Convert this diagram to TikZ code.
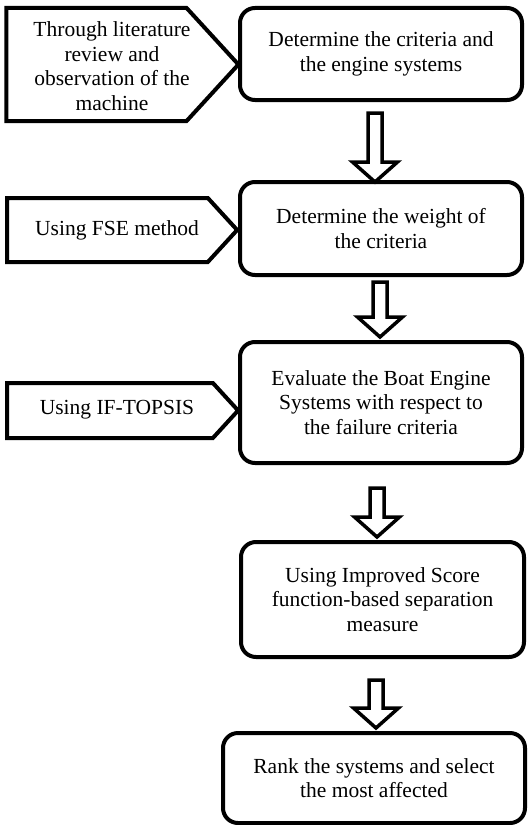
\documentclass[tikz,border=0pt]{standalone}
\usepackage{fontspec}
\setmainfont{Liberation Serif}
\usetikzlibrary{shapes.symbols,calc}
\tikzset{
  txt/.style={font=\fontsize{21.5bp}{24.5bp}\selectfont, align=center, inner sep=0pt},
  stepbox/.style={txt, draw, line width=4bp, rounded corners=15bp},
  pent/.style={draw, line width=4bp, shape=signal, signal to=east, signal from=nowhere, signal pointer angle=95, inner sep=0pt},
  barrow/.style={draw, line width=3.5bp, fill=white, line join=miter},
}
\newcommand{\blockarr}[2]{%
  \draw[barrow] ($(#1)+(-7,0)$) -- ($(#2)+(-7,-20)$) -- ($(#2)+(-22.5,-20)$) -- (#2)
    -- ($(#2)+(22.5,-20)$) -- ($(#2)+(7,-20)$) -- ($(#1)+(7,0)$) -- cycle;}
\begin{document}
\begin{tikzpicture}[x=1bp,y=-1bp]
  \path[fill=white, use as bounding box] (0,0) rectangle (531,825);

  % main boxes
  \node[stepbox, minimum width=282bp, minimum height=92bp] (b1) at (381,54)
    {Determine the criteria and\\the engine systems};
  \node[stepbox, minimum width=282bp, minimum height=93bp] (b2) at (381,228.5)
    {Determine the weight of\\the criteria};
  \node[stepbox, minimum width=282bp, minimum height=121bp] (b3) at (381,402.5)
    {Evaluate the Boat Engine\\Systems with respect to\\the failure criteria};
  \node[stepbox, minimum width=283bp, minimum height=115bp] (b4) at (382.5,599.5)
    {Using Improved Score\\function-based separation\\measure};
  \node[stepbox, minimum width=302bp, minimum height=90bp] (b5) at (374,778)
    {Rank the systems and select\\the most affected};

  % side pentagons
  \node[pent, minimum width=232bp, minimum height=113bp] (p1) at (96.5,64.5) {};
  \node[txt] (p1t) at (112,66) {Through literature\\review and\\observation of the\\machine};
  \node[pent, minimum width=230bp, minimum height=64bp] (p2) at (107.5,230) {};
  \node[txt] (p2t) at (117,230) {Using FSE method};
  \node[pent, minimum width=231bp, minimum height=55bp] (p3) at (110,410.5) {};
  \node[txt] (p3t) at (117,410) {Using IF-TOPSIS};

  % block arrows
  \coordinate (a1s) at (375,113); \coordinate (a1e) at (375,182);
  \coordinate (a2s) at (380,282); \coordinate (a2e) at (380,337);
  \coordinate (a3s) at (377,488); \coordinate (a3e) at (377,537);
  \coordinate (a4s) at (376,680); \coordinate (a4e) at (376,728);
  \blockarr{a1s}{a1e}
  \blockarr{a2s}{a2e}
  \blockarr{a3s}{a3e}
  \blockarr{a4s}{a4e}
\end{tikzpicture}
\end{document}
